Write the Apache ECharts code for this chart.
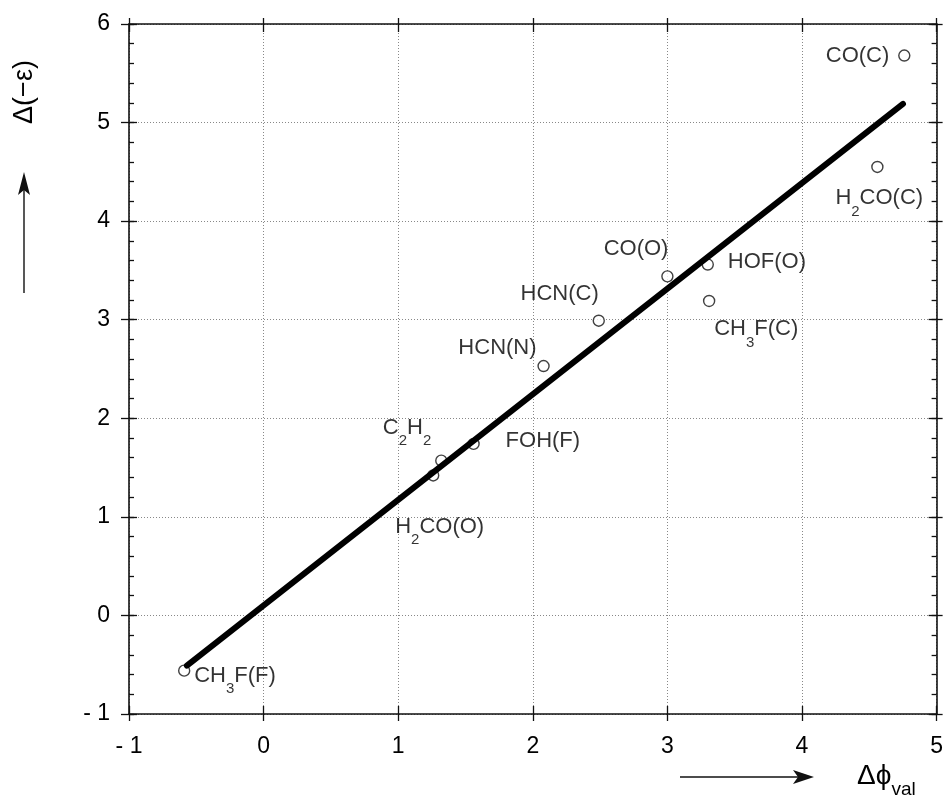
<!DOCTYPE html>
<html>
<head>
<meta charset="utf-8">
<script src="https://cdn.jsdelivr.net/npm/echarts@6/dist/echarts.min.js"></script>
<style>
  html, body { margin: 0; padding: 0; background: #fff; }
  #chart { width: 946px; height: 797px; }
</style>
</head>
<body>
<div id="chart"></div>
<script>
// Molecule / site names (digits become subscripts when drawn)
const names = ['CO(C)', 'H2CO(C)', 'HOF(O)', 'CO(O)', 'CH3F(C)', 'HCN(C)',
               'HCN(N)', 'FOH(F)', 'C2H2', 'H2CO(O)', 'CH3F(F)'];
// Δφ_val for each site
const dPhi = [4.76, 4.56, 3.30, 3.00, 3.31, 2.49, 2.08, 1.56, 1.32, 1.26, -0.59];
// Δ(−ε) for each site
const dEps = [5.68, 4.55, 3.56, 3.44, 3.19, 2.99, 2.53, 1.74, 1.57, 1.42, -0.56];
// Regression line end points
const fitX = [-0.57, 4.75];
const fitY = [-0.51, 5.19];
// Axis ticks
const xTicks = [-1, 0, 1, 2, 3, 4, 5];
const yTicks = [-1, 0, 1, 2, 3, 4, 5, 6];
const yMinorStep = 0.2;

// Label placement around each marker: anchor alignment and pixel offset
const labelPlace = {
  'CO(C)':   { align: 'right', dx: -15, dy: 0 },
  'H2CO(C)': { align: 'left',  dx: -42, dy: 31 },
  'HOF(O)':  { align: 'left',  dx: 20,  dy: -3 },
  'CO(O)':   { align: 'right', dx: 1,   dy: -27 },
  'CH3F(C)': { align: 'left',  dx: 5,   dy: 28 },
  'HCN(C)':  { align: 'right', dx: 0,   dy: -27 },
  'HCN(N)':  { align: 'right', dx: -7,  dy: -18 },
  'FOH(F)':  { align: 'left',  dx: 32,  dy: -3 },
  'C2H2':    { align: 'right', dx: -10, dy: -33 },
  'H2CO(O)': { align: 'left',  dx: -38, dy: 51 },
  'CH3F(F)': { align: 'left',  dx: 10,  dy: 5 }
};

const FONT = 'Liberation Sans, Arial, Helvetica, sans-serif';

function richName(name) {
  return name.split(/(\d)/).filter(p => p !== '').map(p =>
    /^\d$/.test(p) ? '{s|' + p + '}' : '{n|' + p + '}').join('');
}

const rich = {
  n: { fontFamily: FONT, fontSize: 22, color: '#000', lineHeight: 42, verticalAlign: 'middle' },
  s: { fontFamily: FONT, fontSize: 15, color: '#000', lineHeight: 42, verticalAlign: 'bottom' }
};

const points = names.map((nm, i) => {
  const p = labelPlace[nm];
  return {
    name: nm,
    value: [dPhi[i], dEps[i]],
    label: {
      show: true,
      position: 'inside',
      align: p.align,
      verticalAlign: 'middle',
      offset: [p.dx, p.dy],
      formatter: richName(nm),
      rich: rich
    }
  };
});

const fitLine = fitX.map((x, i) => [x, fitY[i]]);

const tickLabel = v => (v < 0 ? '- ' + Math.abs(v) : String(v));

const dotted = { show: true, lineStyle: { color: '#888', width: 1, type: [1, 2] } };
const axisLine = { show: true, onZero: false, lineStyle: { color: '#111', width: 1.6 } };
const noLine = { show: false, onZero: false };
const tickStyle = { color: '#111', width: 1.3 };

function xAxisDef(pos, opts) {
  return Object.assign({
    type: 'value', position: pos, min: xTicks[0], max: xTicks[xTicks.length - 1],
    interval: 1, axisLine: noLine, axisLabel: { show: false },
    splitLine: { show: false }, axisTick: { show: false }
  }, opts);
}
function yAxisDef(pos, opts) {
  return Object.assign({
    type: 'value', position: pos, min: yTicks[0], max: yTicks[yTicks.length - 1],
    interval: 1, axisLine: noLine, axisLabel: { show: false },
    splitLine: { show: false }, axisTick: { show: false }
  }, opts);
}

const option = {
  backgroundColor: '#fff',
  animation: false,
  grid: { left: 129, right: 7, top: 24, bottom: 83, containLabel: false },
  xAxis: [
    xAxisDef('bottom', {
      axisLine: axisLine,
      axisTick: { show: true, inside: true, length: 8, lineStyle: tickStyle },
      splitLine: dotted,
      axisLabel: { show: true, margin: 21, fontFamily: FONT, fontSize: 23, color: '#000',
                   formatter: tickLabel }
    }),
    xAxisDef('bottom', { axisTick: { show: true, inside: false, length: 7, lineStyle: tickStyle } }),
    xAxisDef('top', {
      axisLine: axisLine,
      axisTick: { show: true, inside: true, length: 8, lineStyle: tickStyle }
    }),
    xAxisDef('top', { axisTick: { show: true, inside: false, length: 6, lineStyle: tickStyle } })
  ],
  yAxis: [
    yAxisDef('left', {
      axisLine: axisLine,
      axisTick: { show: true, inside: true, length: 8, lineStyle: tickStyle },
      splitLine: dotted,
      axisLabel: { show: true, margin: 19, fontFamily: FONT, fontSize: 23, color: '#000',
                   formatter: tickLabel }
    }),
    yAxisDef('left', { axisTick: { show: true, inside: false, length: 8, lineStyle: tickStyle } }),
    // minor ticks on the left frame
    yAxisDef('left', { interval: yMinorStep,
      axisTick: { show: true, inside: true, length: 5, lineStyle: tickStyle } }),
    yAxisDef('right', {
      axisLine: axisLine,
      axisTick: { show: true, inside: true, length: 8, lineStyle: tickStyle }
    }),
    yAxisDef('right', { axisTick: { show: true, inside: false, length: 6, lineStyle: tickStyle } }),
    // minor ticks on the right frame
    yAxisDef('right', { interval: yMinorStep,
      axisTick: { show: true, inside: true, length: 5, lineStyle: tickStyle } })
  ],
  series: [
    {
      type: 'scatter',
      xAxisIndex: 0, yAxisIndex: 0,
      symbol: 'circle',
      symbolSize: 11,
      itemStyle: { color: '#fff', borderColor: '#111', borderWidth: 1.4 },
      data: points,
      z: 3
    },
    {
      type: 'line',
      xAxisIndex: 0, yAxisIndex: 0,
      data: fitLine,
      showSymbol: false,
      symbol: 'none',
      lineStyle: { color: '#000', width: 6, cap: 'round' },
      z: 4,
      silent: true
    }
  ],
  graphic: [
    // y-axis title and upward arrow
    {
      type: 'text', x: 25, y: 92, rotation: Math.PI / 2,
      style: { text: 'Δ(−ε)', fontFamily: FONT, fontSize: 27, fill: '#000',
               align: 'center', verticalAlign: 'middle' }
    },
    {
      type: 'line', shape: { x1: 24, y1: 293, x2: 24, y2: 185 },
      style: { stroke: '#111', lineWidth: 1.4 }
    },
    {
      type: 'polygon', shape: { points: [[24, 172], [18, 195], [24, 190], [30, 195]] },
      style: { fill: '#111' }
    },
    // x-axis title and rightward arrow
    {
      type: 'line', shape: { x1: 680, y1: 777, x2: 805, y2: 777 },
      style: { stroke: '#111', lineWidth: 1.4 }
    },
    {
      type: 'polygon', shape: { points: [[814, 777], [793, 770], [798, 777], [793, 784]] },
      style: { fill: '#111' }
    },
    {
      type: 'text', x: 857, y: 776,
      style: {
        text: '{m|Δϕ}{v|val}',
        verticalAlign: 'middle', align: 'left',
        rich: {
          m: { fontFamily: FONT, fontSize: 28, fill: '#000', lineHeight: 46, verticalAlign: 'middle' },
          v: { fontFamily: FONT, fontSize: 19, fill: '#000', lineHeight: 46, verticalAlign: 'bottom' }
        }
      }
    }
  ]
};

const chart = echarts.init(document.getElementById('chart'), null, { renderer: 'canvas' });
chart.setOption(option);
</script>
</body>
</html>
